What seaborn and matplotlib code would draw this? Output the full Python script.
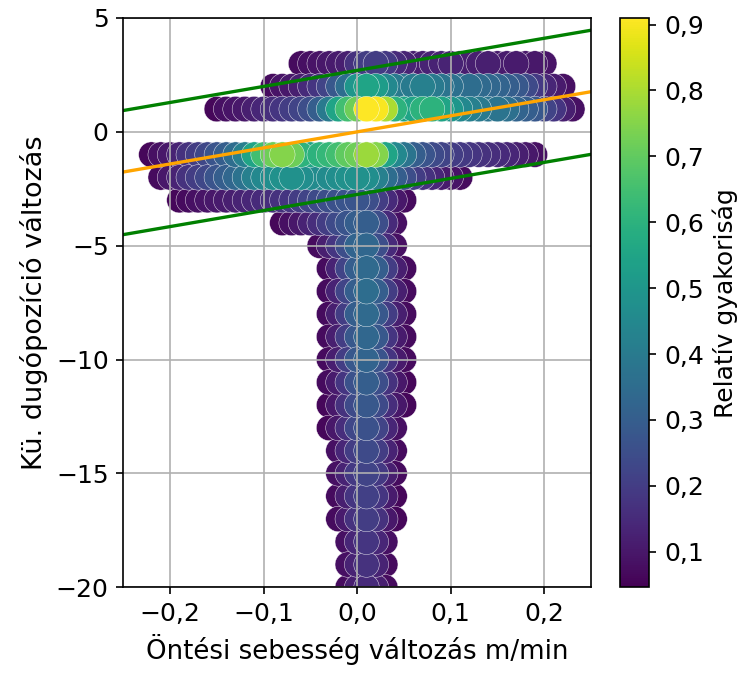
import numpy as np
import pandas as pd
import matplotlib
matplotlib.use("Agg")
import matplotlib as mpl
import matplotlib.pyplot as plt
import seaborn as sns
from matplotlib.ticker import FuncFormatter, MultipleLocator
from matplotlib.colors import Normalize

# ---------------- data ----------------
x_step = 0.01
y_levels = [3, 2, 1, -1, -2, -3, -4, -5, -6, -7, -8, -9, -10, -11, -12,
            -13, -14, -15, -16, -17, -18, -19, -20]
x_first = [-0.06, -0.09, -0.15, -0.22, -0.21, -0.19, -0.08, -0.04, -0.03,
           -0.03, -0.03, -0.03, -0.03, -0.03, -0.03, -0.03, -0.02, -0.02,
           -0.02, -0.02, -0.01, -0.01, -0.01]

f_p3 = [0.07, 0.08, 0.09, 0.10, 0.11, 0.12, 0.17, 0.20, 0.20, 0.19, 0.15, 0.13,
        0.12, 0.12, 0.13, 0.13, 0.13, 0.12, 0.12, 0.12, 0.12, 0.11, 0.11, 0.11,
        0.10, 0.10, 0.09]
f_p2 = [0.07, 0.09, 0.10, 0.12, 0.15, 0.18, 0.22, 0.28, 0.35, 0.50, 0.55, 0.52,
        0.45, 0.40, 0.38, 0.40, 0.42, 0.40, 0.38, 0.36, 0.35, 0.35, 0.34, 0.33,
        0.32, 0.30, 0.28, 0.24, 0.19, 0.14, 0.11, 0.08]
f_p1 = [0.06, 0.08, 0.09, 0.10, 0.12, 0.14, 0.16, 0.18, 0.20, 0.22, 0.25, 0.30,
        0.40, 0.55, 0.65, 0.72, 0.91, 0.90, 0.80, 0.60, 0.55, 0.55, 0.60, 0.60,
        0.55, 0.50, 0.45, 0.42, 0.40, 0.38, 0.38, 0.36, 0.32, 0.30, 0.28, 0.22,
        0.18, 0.12, 0.08]
f_m1 = [0.06, 0.08, 0.10, 0.13, 0.17, 0.20, 0.23, 0.27, 0.30, 0.35, 0.42, 0.55,
        0.65, 0.72, 0.75, 0.72, 0.60, 0.55, 0.60, 0.62, 0.65, 0.70, 0.72, 0.78,
        0.75, 0.55, 0.45, 0.38, 0.30, 0.27, 0.24, 0.22, 0.20, 0.19, 0.18, 0.17,
        0.16, 0.15, 0.14, 0.12, 0.10, 0.08]
f_m2 = [0.07, 0.10, 0.13, 0.17, 0.20, 0.23, 0.27, 0.30, 0.33, 0.37, 0.42, 0.45,
        0.47, 0.48, 0.48, 0.47, 0.46, 0.45, 0.46, 0.47, 0.48, 0.48, 0.47, 0.42,
        0.35, 0.30, 0.25, 0.20, 0.17, 0.14, 0.11, 0.09, 0.07]
f_m3 = [0.06, 0.07, 0.08, 0.09, 0.10, 0.11, 0.12, 0.13, 0.14, 0.15, 0.16, 0.17,
        0.18, 0.20, 0.22, 0.24, 0.25, 0.26, 0.27, 0.27, 0.25, 0.20, 0.15, 0.10,
        0.07]
f_m4 = [0.06, 0.08, 0.10, 0.13, 0.16, 0.20, 0.24, 0.27, 0.30, 0.30, 0.25, 0.15, 0.08]
f_m5 = [0.07, 0.12, 0.18, 0.25, 0.32, 0.33, 0.25, 0.15, 0.08]
f_m6 = [0.07, 0.13, 0.22, 0.30, 0.34, 0.30, 0.20, 0.12, 0.07]
f_m7 = [0.07, 0.13, 0.22, 0.30, 0.35, 0.30, 0.20, 0.12, 0.07]
f_m8 = [0.07, 0.12, 0.20, 0.30, 0.34, 0.28, 0.20, 0.12, 0.07]
f_m9 = [0.07, 0.12, 0.20, 0.28, 0.33, 0.28, 0.18, 0.11, 0.07]
f_m10 = [0.07, 0.12, 0.20, 0.28, 0.32, 0.27, 0.18, 0.11, 0.07]
f_m11 = [0.07, 0.11, 0.18, 0.26, 0.30, 0.25, 0.17, 0.10, 0.06]
f_m12 = [0.06, 0.10, 0.17, 0.24, 0.28, 0.24, 0.16, 0.10, 0.06]
f_m13 = [0.06, 0.10, 0.16, 0.23, 0.26, 0.22, 0.14, 0.08]
f_m14 = [0.08, 0.14, 0.20, 0.24, 0.20, 0.13, 0.07]
f_m15 = [0.08, 0.13, 0.19, 0.22, 0.19, 0.12, 0.07]
f_m16 = [0.07, 0.12, 0.18, 0.21, 0.18, 0.11, 0.06]
f_m17 = [0.07, 0.11, 0.17, 0.20, 0.17, 0.10, 0.06]
f_m18 = [0.08, 0.14, 0.18, 0.14, 0.08]
f_m19 = [0.08, 0.13, 0.17, 0.13, 0.07]
f_m20 = [0.07, 0.12, 0.15, 0.12, 0.07]

row_freqs = [f_p3, f_p2, f_p1, f_m1, f_m2, f_m3, f_m4, f_m5, f_m6, f_m7, f_m8,
             f_m9, f_m10, f_m11, f_m12, f_m13, f_m14, f_m15, f_m16, f_m17,
             f_m18, f_m19, f_m20]

freq_min, freq_max = 0.046, 0.91
line_slope = 7.05
band_offset_hi = 2.70
band_offset_lo = -2.75

# ---------------- build table ----------------
recs = []
for yv, x0, vals in zip(y_levels, x_first, row_freqs):
    for i, v in enumerate(vals):
        recs.append((round(x0 + i * x_step, 2), yv, v))
df = pd.DataFrame(recs, columns=["dv", "dpos", "freq"]).sort_values("freq", kind="stable")

# ---------------- figure ----------------
W, H, DPI = 746, 673, 150
plt.rcParams["font.size"] = 12
fig = plt.figure(figsize=(W / DPI, H / DPI), dpi=DPI)
ax = fig.add_axes([123.3 / W, 1 - 587.3 / H, (591 - 123.3) / W, (587.3 - 18) / H])
cax = fig.add_axes([620 / W, 1 - 587.3 / H, 29.3 / W, (587.3 - 18) / H])

norm = Normalize(freq_min, freq_max)
sns.scatterplot(data=df, x="dv", y="dpos", hue="freq", palette="viridis",
                hue_norm=norm, s=150, linewidth=0.2, edgecolor="white",
                legend=False, ax=ax)

xs = np.array([-0.25, 0.25])
ax.plot(xs, line_slope * xs + band_offset_hi, color="green", lw=1.6)
ax.plot(xs, line_slope * xs + band_offset_lo, color="green", lw=1.6)
ax.plot(xs, line_slope * xs, color="orange", lw=1.6)

ax.set_xlim(-0.25, 0.25)
ax.set_ylim(-20, 5)
ax.grid(True)
ax.xaxis.set_major_locator(MultipleLocator(0.1))
ax.yaxis.set_major_locator(MultipleLocator(5))


def fmt1(v, p):
    if abs(v) < 1e-9:
        v = 0.0
    return f"{v:.1f}".replace(".", ",").replace("-", "\u2212")


def fmt0(v, p):
    if abs(v) < 1e-9:
        v = 0.0
    return f"{v:.0f}".replace("-", "\u2212")


ax.xaxis.set_major_formatter(FuncFormatter(fmt1))
ax.yaxis.set_major_formatter(FuncFormatter(fmt0))
ax.tick_params(labelsize=12)
ax.set_xlabel("Öntési sebesség változás m/min", fontsize=12.5)
ax.set_ylabel("Kü. dugópozíció változás", fontsize=13)

sm = mpl.cm.ScalarMappable(norm=norm, cmap="viridis")
sm.set_array([])
cbar = fig.colorbar(sm, cax=cax)
cbar.set_ticks([0.1, 0.2, 0.3, 0.4, 0.5, 0.6, 0.7, 0.8, 0.9])
cbar.ax.yaxis.set_major_formatter(FuncFormatter(fmt1))
cbar.ax.tick_params(labelsize=12)
cbar.set_label("Relatív gyakoriság", fontsize=12)

fig.savefig("out.png", dpi=DPI)
